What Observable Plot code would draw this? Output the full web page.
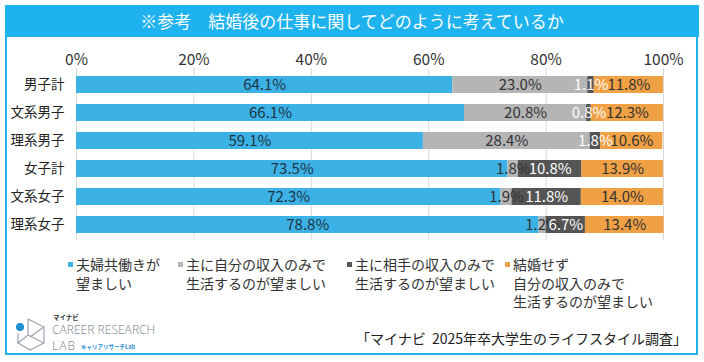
<!DOCTYPE html>
<html><head><meta charset="utf-8">
<script src="https://cdn.jsdelivr.net/npm/d3@7"></script>
<script src="https://cdn.jsdelivr.net/npm/@observablehq/plot@0.6"></script>
<style>
html,body{margin:0;padding:0;background:#fff;font-family:"Noto Sans CJK JP","Noto Sans",sans-serif;}
#page{position:relative;width:704px;height:362px;overflow:hidden;}
#frame{position:absolute;left:5px;top:5px;width:689px;height:346px;border:2.5px solid #1eb2ee;}
#title{position:absolute;left:5px;top:5px;width:694px;height:32px;background:#1eb2ee;color:#fff;font-size:17px;line-height:32px;text-align:center;}
#chart{position:absolute;left:0;top:37px;}
.leg{position:absolute;top:255px;display:flex;font-size:14px;color:#333;line-height:18.5px;}
.leg .sw{width:5px;height:5px;margin-top:7px;margin-right:3px;flex:none;}
#caption{position:absolute;right:17px;top:328px;font-size:14px;color:#222;}
#logo{position:absolute;left:14px;top:310px;}
</style></head>
<body><div id="page">
<div id="frame"></div>
<div id="title">※参考　結婚後の仕事に関してどのように考えているか</div>
<div id="chart"></div>
<div id="legend"></div>
<div id="logo"></div>
<div id="caption">「マイナビ&nbsp; 2025年卒大学生のライフスタイル調査」</div>
</div>
<script>
const categories = ["男子計","文系男子","理系男子","女子計","文系女子","理系女子"];
const seriesNames = [
  "夫婦共働きが望ましい",
  "主に自分の収入のみで生活するのが望ましい",
  "主に相手の収入のみで生活するのが望ましい",
  "結婚せず自分の収入のみで生活するのが望ましい"
];
const legendLines = [
  ["夫婦共働きが","望ましい"],
  ["主に自分の収入のみで","生活するのが望ましい"],
  ["主に相手の収入のみで","生活するのが望ましい"],
  ["結婚せず","自分の収入のみで","生活するのが望ましい"]
];
const bothWork    = [64.1, 66.1, 59.1, 73.5, 72.3, 78.8];
const selfIncome  = [23.0, 20.8, 28.4, 1.8, 1.9, 1.2];
const partnerInc  = [1.1, 0.8, 1.8, 10.8, 11.8, 6.7];
const singleSelf  = [11.8, 12.3, 10.6, 13.9, 14.0, 13.4];
const xTicks = [0, 20, 40, 60, 80, 100];

const barColors = ["#3cb1e5", "#b5b5b5", "#555555", "#f0a145"];
const labelColors = ["#1c3444", "#333333", "#ffffff", "#333333"];

const seriesValues = [bothWork, selfIncome, partnerInc, singleSelf];
const rows = [];
seriesValues.forEach((vals, s) => vals.forEach((v, i) => rows.push({
  cat: categories[i], series: seriesNames[s], si: s, value: v
})));

const chart = Plot.plot({
  width: 704, height: 205,
  marginLeft: 76, marginRight: 41, marginTop: 31, marginBottom: 2,
  style: {fontFamily: '"Noto Sans CJK JP","Noto Sans",sans-serif', background: "transparent"},
  x: {domain: [0, 100], axis: "top", ticks: xTicks, tickFormat: d => d + "%", tickSize: 0, tickPadding: 4, label: null},
  y: {domain: categories, paddingInner: 0.4, paddingOuter: 0.23, tickSize: 0, tickPadding: 12, label: null},
  color: {type: "identity"},
  marks: [
    Plot.ruleX(xTicks, {stroke: "#d9d9d9", strokeWidth: 1}),
    Plot.barX(rows, Plot.stackX({x: "value", y: "cat", z: "si", order: "si", fill: d => barColors[d.si]})),
    Plot.text(rows, Plot.stackX({x: "value", y: "cat", z: "si", order: "si",
      text: d => d.value.toFixed(1) + "%", fill: d => labelColors[d.si], fontSize: 15}))
  ]
});
chart.querySelectorAll('g[aria-label="x-axis tick label"]').forEach(g => { g.setAttribute("font-size", "15.5"); g.setAttribute("fill", "#333"); });
chart.querySelectorAll('g[aria-label="y-axis tick label"]').forEach(g => { g.setAttribute("font-size", "13.5"); g.setAttribute("fill", "#222"); });
document.getElementById("chart").appendChild(chart);

// legend
const legX = [68, 178, 347, 505];
const legend = document.getElementById("legend");
seriesNames.forEach((name, s) => {
  const item = document.createElement("div");
  item.className = "leg";
  item.style.left = legX[s] + "px";
  item.setAttribute("title", name);
  const sw = document.createElement("div");
  sw.className = "sw"; sw.style.background = barColors[s];
  const tx = document.createElement("div");
  tx.innerHTML = legendLines[s].join("<br>");
  item.appendChild(sw); item.appendChild(tx);
  legend.appendChild(item);
});

// logo
document.getElementById("logo").innerHTML = `
<svg width="160" height="46" xmlns="http://www.w3.org/2000/svg">
  <g fill="none" stroke="#9aa3ad" stroke-width="1.2">
    <path d="M14 9 L30 17 L30 33 L16 40 L4 33"/>
    <path d="M14 9 L14 25 L30 33"/>
    <path d="M14 25 L4 33 L4 23"/>
    <path d="M30 17 L16 27"/>
  </g>
  <circle cx="6" cy="17" r="4" fill="#1e8fd0"/>
  <text x="39" y="10" font-size="6.5" font-weight="bold" fill="#333">マイナビ</text>
  <text x="38" y="24" font-size="12" fill="#8a929b" font-family="Noto Sans, sans-serif" font-weight="300">CAREER RESEARCH</text>
  <text x="38" y="40" font-size="12" fill="#8a929b" font-family="Noto Sans, sans-serif" font-weight="300" letter-spacing="1">LAB</text>
  <text x="67" y="39" font-size="5.5" font-weight="bold" fill="#2b8fd0">キャリアリサーチLab</text>
</svg>`;
</script>
</body></html>
